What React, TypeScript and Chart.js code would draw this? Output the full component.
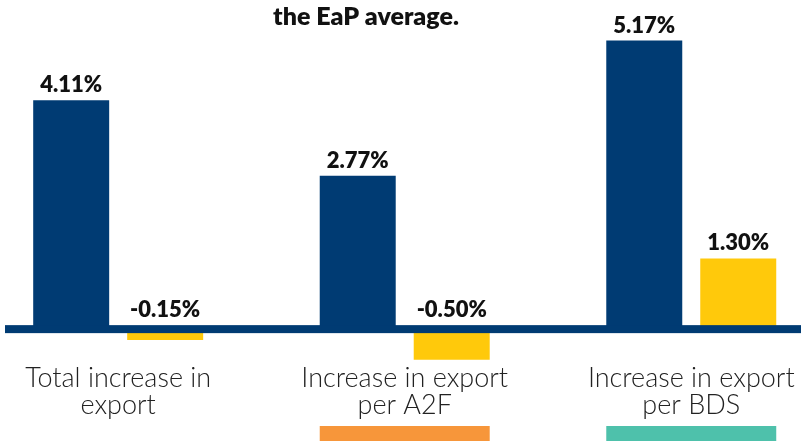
import React, { useEffect, useRef } from "react";
import { Chart, registerables } from "chart.js";

Chart.register(...registerables);

// ---- data ----
const categories: string[][] = [
  ["Total increase in", "export"],
  ["Increase in export", "per A2F"],
  ["Increase in export", "per BDS"],
];
const seriesNames = ["Country", "EaP average"];
const countryValues = [4.11, 2.77, 5.17];
const eapValues = [-0.15, -0.5, 1.3];
const categoryAccents: (string | null)[] = [null, "#F7963A", "#4EC1AB"];
const titleText = "the EaP average.";

// ---- styles ----
const BLUE = "#003B73";
const YELLOW = "#FFC90B";
const FONT = "Lato, 'Open Sans', sans-serif";

export default function App() {
  const ref = useRef<HTMLCanvasElement | null>(null);

  useEffect(() => {
    if (!ref.current) return;

    const zeroLinePlugin = {
      id: "zeroLine",
      afterDatasetsDraw(chart: any) {
        const { ctx, chartArea, scales } = chart;
        const y0 = scales.y.getPixelForValue(0);
        ctx.save();
        ctx.fillStyle = BLUE;
        ctx.fillRect(chartArea.left, y0 - 6.5, chartArea.right - chartArea.left, 8);
        ctx.restore();
      },
    };

    const labelPlugin = {
      id: "valueLabels",
      afterDraw(chart: any) {
        const { ctx, scales } = chart;
        const y0 = scales.y.getPixelForValue(0);
        ctx.save();
        ctx.font = `800 22px ${FONT}`;
        ctx.fillStyle = "#111";
        ctx.textAlign = "center";
        ctx.textBaseline = "alphabetic";
        chart.data.datasets.forEach((ds: any, di: number) => {
          const meta = chart.getDatasetMeta(di);
          meta.data.forEach((el: any, i: number) => {
            const v = ds.data[i].y;
            const anchor = v >= 0 ? el.y : y0 - 6.5;
            ctx.fillText(v.toFixed(2) + "%", el.x, anchor - 8);
          });
        });
        // title
        ctx.font = `800 25px ${FONT}`;
        ctx.fillStyle = "#111";
        ctx.fillText(titleText, 366, 25);
        // accent bars under categories
        const m0 = chart.getDatasetMeta(0);
        const m1 = chart.getDatasetMeta(1);
        categoryAccents.forEach((c, i) => {
          if (!c) return;
          const a = m0.data[i];
          const b = m1.data[i];
          const left = a.x - a.width / 2;
          const right = b.x + b.width / 2;
          ctx.fillStyle = c;
          ctx.fillRect(left, chart.height - 15, right - left, 15);
        });
        ctx.restore();
      },
    };

    const chart = new Chart(ref.current, {
      type: "bar",
      data: {
        datasets: [
          {
            label: seriesNames[0],
            data: countryValues.map((y, x) => ({ x, y })),
            backgroundColor: BLUE,
          },
          {
            label: seriesNames[1],
            data: eapValues.map((y, x) => ({ x, y })),
            backgroundColor: YELLOW,
          },
        ],
      },
      options: {
        animation: false,
        responsive: true,
        maintainAspectRatio: false,
        categoryPercentage: 0.656,
        barPercentage: 0.8085,
        layout: { padding: { left: 5, right: 0, top: 0, bottom: 0 } },
        plugins: {
          legend: { display: false },
          tooltip: { enabled: false },
          title: { display: false },
        },
        scales: {
          x: {
            type: "linear",
            offset: false,
            min: -0.395,
            max: 2.383,
            grid: { display: false, drawTicks: false },
            border: { display: false },
            afterBuildTicks: (scale: any) => {
              scale.ticks = categories.map((_, i) => ({ value: i }));
            },
            afterFit: (scale: any) => {
              scale.height = 78.4;
            },
            ticks: {
              autoSkip: false,
              maxRotation: 0,
              minRotation: 0,
              padding: 2,
              color: "#222",
              font: { family: FONT, size: 27, weight: 300, lineHeight: 1.0 },
              callback: (value: any) => categories[Math.round(Number(value))] ?? "",
            },
          },
          y: {
            display: false,
            min: -0.55,
            max: 5.89,
          },
        },
      } as any,
      plugins: [zeroLinePlugin, labelPlugin],
    });

    return () => chart.destroy();
  }, []);

  return (
    <div
      style={{
        position: "fixed",
        left: 0,
        top: 0,
        width: 801,
        height: 441,
        background: "#fff",
      }}
    >
      <canvas ref={ref} />
    </div>
  );
}
